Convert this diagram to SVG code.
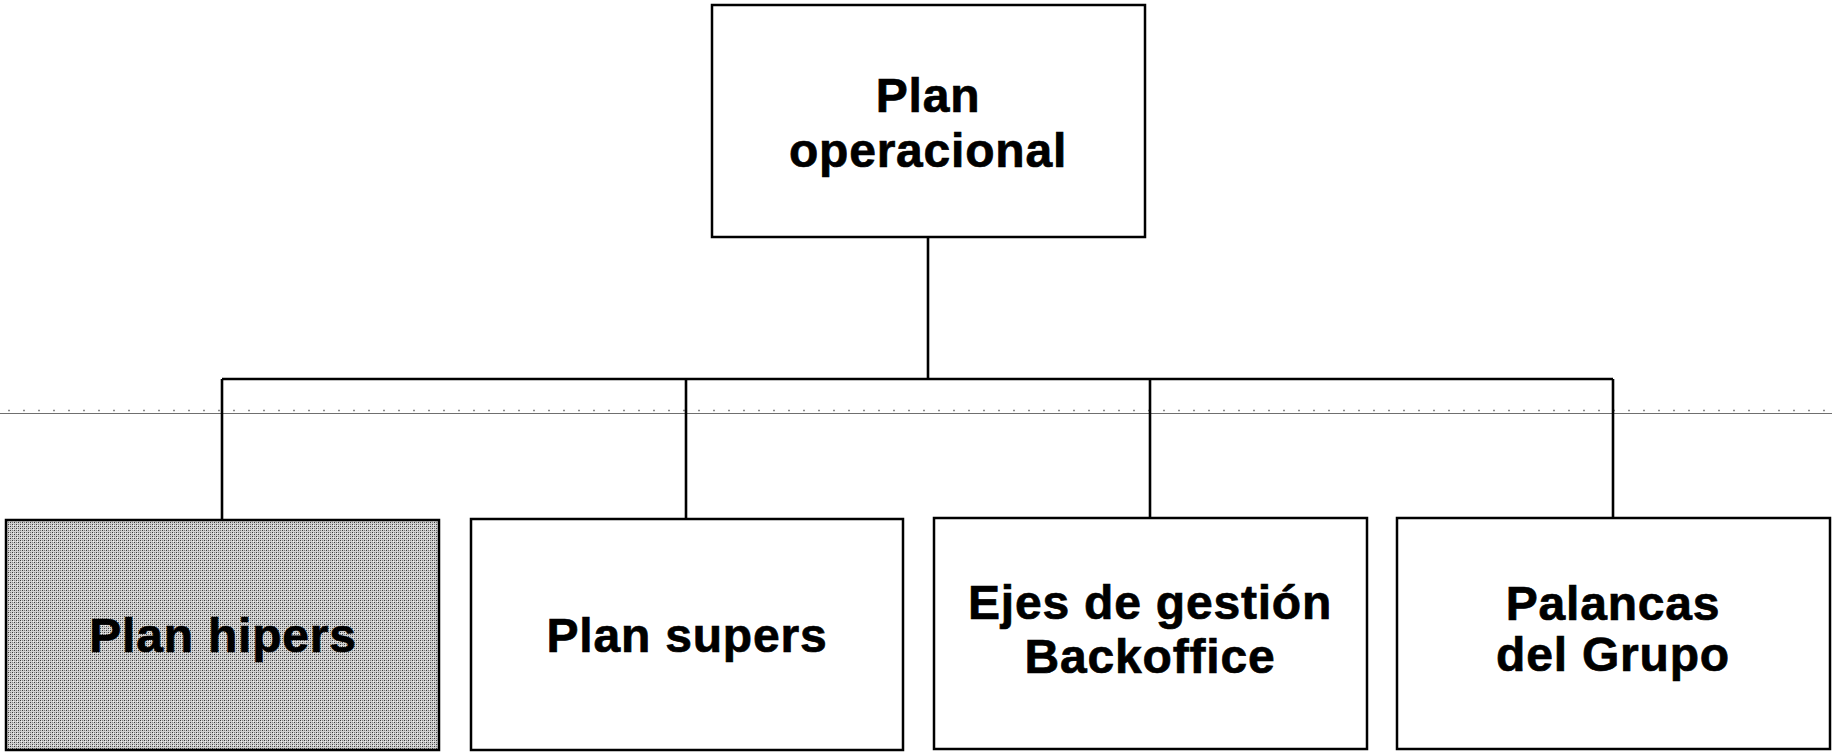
<svg xmlns="http://www.w3.org/2000/svg" width="1832" height="752" viewBox="0 0 1832 752">
  <style>
    .box { fill: #ffffff; stroke: #000000; stroke-width: 2.5; }
    .shaded { fill: url(#halftone); }
    .lbl { font-family: "Liberation Sans", Arial, sans-serif; font-weight: bold; font-size: 48px; fill: #000000; stroke: #000000; stroke-width: 0.7; text-anchor: middle; letter-spacing: 0.8px; }
    .conn { stroke: #000000; stroke-width: 2.6; fill: none; }
    .rule { stroke: #6f6f6f; stroke-width: 1.2; fill: none; }
    .specks { stroke: #8a8a8a; stroke-width: 1.5; stroke-dasharray: 2 13; fill: none; }
  </style>
  <defs>
    <!-- halftone grey used for the highlighted box -->
    <pattern id="halftone" width="4" height="4" patternUnits="userSpaceOnUse">
      <rect width="4" height="4" fill="#d0d0d0"/>
      <rect x="0" y="0" width="1" height="1" fill="#3a3a3a"/>
      <rect x="2" y="2" width="1" height="1" fill="#3a3a3a"/>
      <rect x="2" y="0" width="1" height="1" fill="#808080"/>
      <rect x="0" y="2" width="1" height="1" fill="#808080"/>
      <rect x="1" y="1" width="1" height="1" fill="#f2f2f2"/>
    </pattern>
  </defs>

  <rect width="1832" height="752" fill="#ffffff"/>

  <!-- faint horizontal rule across the page -->
  <g id="page-rule">
    <line class="rule" x1="0" y1="413.5" x2="1832" y2="413.5"/>
    <line class="specks" x1="8" y1="410.5" x2="1832" y2="410.5"/>
  </g>

  <!-- tree connectors -->
  <g id="connectors">
    <line class="conn" x1="928" y1="237" x2="928" y2="379"/>
    <line class="conn" x1="222" y1="379" x2="1613" y2="379"/>
    <line class="conn" x1="222" y1="379" x2="222" y2="520"/>
    <line class="conn" x1="686" y1="379" x2="686" y2="519"/>
    <line class="conn" x1="1150" y1="379" x2="1150" y2="518"/>
    <line class="conn" x1="1613" y1="379" x2="1613" y2="518"/>
  </g>

  <g id="node-plan-operacional">
    <rect class="box" x="712" y="5" width="433" height="232"/>
    <text class="lbl" x="928" y="112">Plan</text>
    <text class="lbl" x="928" y="167">operacional</text>
  </g>

  <g id="node-plan-hipers">
    <rect class="box shaded" x="6" y="520" width="433" height="230"/>
    <text class="lbl" x="223" y="652">Plan hipers</text>
  </g>

  <g id="node-plan-supers">
    <rect class="box" x="471" y="519" width="432" height="231"/>
    <text class="lbl" x="687" y="652">Plan supers</text>
  </g>

  <g id="node-ejes-gestion">
    <rect class="box" x="934" y="518" width="433" height="231"/>
    <text class="lbl" x="1150" y="619">Ejes de gestión</text>
    <text class="lbl" x="1150" y="673">Backoffice</text>
  </g>

  <g id="node-palancas">
    <rect class="box" x="1397" y="518" width="433" height="231"/>
    <text class="lbl" x="1613" y="620">Palancas</text>
    <text class="lbl" x="1613" y="671">del Grupo</text>
  </g>
</svg>
